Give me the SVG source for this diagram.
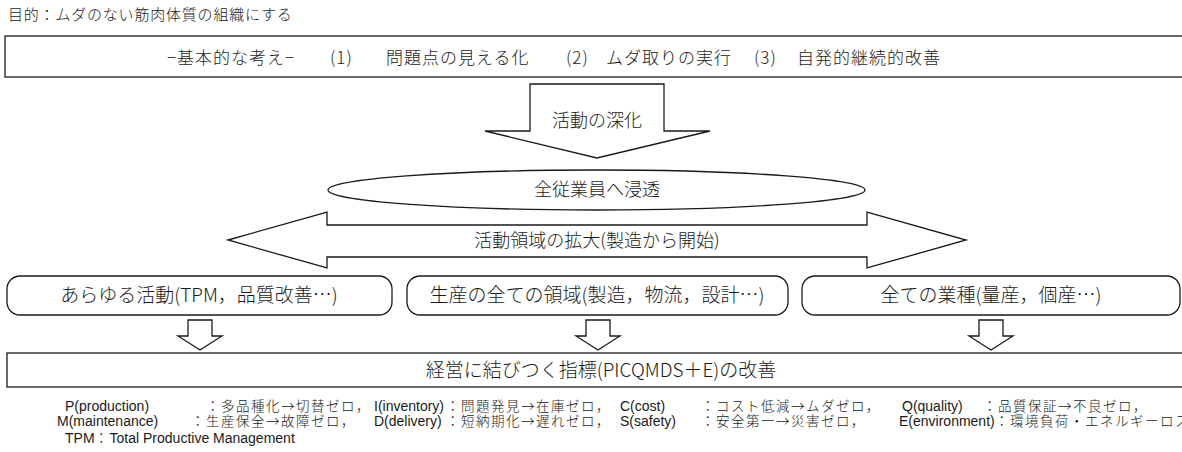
<svg xmlns="http://www.w3.org/2000/svg" width="1182" height="452" viewBox="0 0 1182 452">
<style>
text{font-family:"Noto Sans CJK JP","Liberation Sans",sans-serif;fill:#1a1a1a;font-weight:300}
.t{font-size:15px;letter-spacing:0.8px}
.h{font-size:17px;letter-spacing:1px}
.m{font-size:18px;text-anchor:middle}
.b{font-size:19px;text-anchor:middle}
.f{font-size:13.5px;letter-spacing:1.5px}
.l{font-family:"Liberation Sans","Noto Sans CJK JP",sans-serif;font-size:14px;letter-spacing:0;font-weight:400}
.s{fill:#fff;stroke:#1a1a1a;stroke-width:1.3}
</style>
<rect width="1182" height="452" fill="#fff"/>
<text class="t" x="8" y="20">目的：ムダのない筋肉体質の組織にする</text>
<g id="principles">
<rect class="s" x="5" y="36" width="1185" height="41"/>
<text class="h" y="64"><tspan x="167">−基本的な考え−</tspan><tspan x="330">(1)</tspan><tspan x="386">問題点の見える化</tspan><tspan x="566">(2)</tspan><tspan x="606">ムダ取りの実行</tspan><tspan x="754">(3)</tspan><tspan x="797">自発的継続的改善</tspan></text>
</g>
<g id="connectors">
<polygon class="s" points="530,84 664,84 664,131 710,131 597,158 485,131 530,131"/>
<polygon class="s" points="228,240 327,212 327,225 867,225 867,212 966,240 867,268 867,257 327,257 327,268"/>
<polygon class="s" points="188,320 212,320 212,336 222,336 200,350 178,336 188,336"/>
<polygon class="s" points="586,320 610,320 610,336 620,336 598,350 576,336 586,336"/>
<polygon class="s" points="979,320 1003,320 1003,336 1013,336 991,350 969,336 979,336"/>
</g>
<text class="m" x="597" y="127">活動の深化</text>
<g id="deepen">
<ellipse class="s" cx="596.5" cy="190" rx="268.5" ry="20"/>
<text class="m" x="597" y="196">全従業員へ浸透</text>
</g>
<text class="m" x="597" y="247">活動領域の拡大(製造から開始)</text>
<g id="box1">
<rect class="s" x="7" y="276" width="385" height="39" rx="13"/>
<text class="b" x="199" y="302">あらゆる活動(TPM，品質改善…)</text>
</g>
<g id="box2">
<rect class="s" x="407" y="276" width="381" height="39" rx="13"/>
<text class="b" x="597" y="302">生産の全ての領域(製造，物流，設計…)</text>
</g>
<g id="box3">
<rect class="s" x="802" y="276" width="378" height="39" rx="13"/>
<text class="b" x="991" y="302">全ての業種(量産，個産…)</text>
</g>
<g id="result">
<rect class="s" x="7" y="353" width="1185" height="34"/>
<text class="b" x="601" y="377">経営に結びつく指標(PICQMDS＋E)の改善</text>
</g>
<g id="notes">
<text class="f" y="411"><tspan class="l" x="65">P(production)</tspan><tspan x="206">：多品種化→切替ゼロ，</tspan><tspan class="l" x="374">I(inventory)</tspan><tspan x="446">：問題発見→在庫ゼロ，</tspan><tspan class="l" x="620">C(cost)</tspan><tspan x="701">：コスト低減→ムダゼロ，</tspan><tspan class="l" x="902">Q(quality)</tspan><tspan x="983">：品質保証→不良ゼロ，</tspan></text>
<text class="f" y="426"><tspan class="l" x="57">M(maintenance)</tspan><tspan x="191">：生産保全→故障ゼロ，</tspan><tspan class="l" x="374">D(delivery)</tspan><tspan x="446">：短納期化→遅れゼロ，</tspan><tspan class="l" x="620">S(safety)</tspan><tspan x="701">：安全第一→災害ゼロ，</tspan><tspan class="l" x="899">E(environment)</tspan><tspan x="995">：環境負荷・エネルギーロス</tspan></text>
<text class="f" x="65" y="443"><tspan class="l">TPM</tspan>：<tspan class="l">Total Productive Management</tspan></text>
</g>
</svg>
